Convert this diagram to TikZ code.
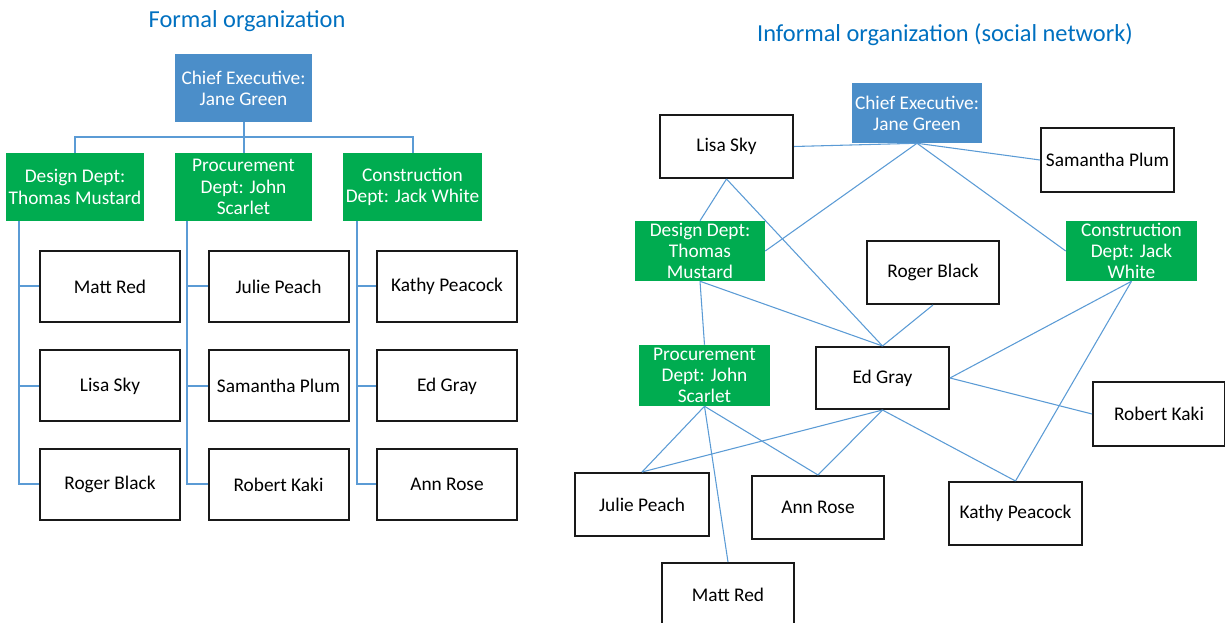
\documentclass[tikz,border=0pt]{standalone}
\usepackage{fontspec}
\setmainfont{Carlito}
\usetikzlibrary{calc}
\definecolor{ceoblue}{RGB}{75,142,201}
\definecolor{deptgreen}{RGB}{0,172,80}
\definecolor{linkblue}{RGB}{91,155,213}
\definecolor{titleblue}{RGB}{0,112,192}

\begin{document}
\begin{tikzpicture}[x=0.75pt,y=-0.75pt,
  every node/.style={inner sep=0pt, align=center, font=\fontsize{14.5}{15.9}\selectfont},
  sz/.style 2 args={minimum width=#1*0.75pt, minimum height=#2*0.75pt},
  heading/.style={font=\fontsize{18.3}{22}\selectfont, text=titleblue},
  person/.style={draw=black!90, line width=1.5pt, fill=white},
  ceo/.style={fill=ceoblue, text=white},
  dept/.style={fill=deptgreen, text=white},
  orgline/.style={draw=linkblue, line width=1.5pt},
  netline/.style={draw=linkblue, line width=0.8pt},
]
\useasboundingbox (0,0) rectangle (1225,623);

% ---------------- Formal organization ----------------
\node[heading] (tf) at (247,21) {Formal organization};

\node[ceo, sz={137}{68}] (ceoL) at (243.5,88) {Chief Executive:\\Jane Green};
\node[dept, sz={138}{68}] (desL) at (75,187) {Design Dept:\\Thomas Mustard};
\node[dept, sz={137}{68}] (proL) at (243.5,187) {Procurement\\Dept: John\\Scarlet};
\node[dept, sz={139}{68}] (conL) at (412.5,187) {Construction\\Dept: Jack White};

\node[person, sz={140}{71}] (mattL)   at (110,286.5) {Matt Red};
\node[person, sz={140}{71}] (lisaL)   at (110,386)   {Lisa Sky};
\node[person, sz={140}{71}] (rogerL)  at (110,484.5) {Roger Black};
\node[person, sz={140}{71}] (julieL)  at (278.5,286.5) {Julie Peach};
\node[person, sz={140}{71}] (samL)    at (278.5,386)   {Samantha Plum};
\node[person, sz={140}{71}] (robL)    at (278.5,484.5) {Robert Kaki};
\node[person, sz={140}{71}] (kathyL)  at (447,286.5) {Kathy Peacock};
\node[person, sz={140}{71}] (edL)     at (447,386)   {Ed Gray};
\node[person, sz={140}{71}] (annL)    at (447,484.5) {Ann Rose};

% reporting lines
\draw[orgline] (ceoL.south) -- (proL.north);
\draw[orgline] (desL.north) -- ++(0,-16) -| (conL.north);

\coordinate (dx) at ([xshift=13*0.75pt]desL.south west);
\coordinate (px) at ([xshift=12*0.75pt]proL.south west);
\coordinate (cx) at ([xshift=14*0.75pt]conL.south west);

\draw[orgline] (dx) |- (rogerL.west);
\draw[orgline] (dx |- mattL.west) -- (mattL.west);
\draw[orgline] (dx |- lisaL.west) -- (lisaL.west);

\draw[orgline] (px) |- (robL.west);
\draw[orgline] (px |- julieL.west) -- (julieL.west);
\draw[orgline] (px |- samL.west) -- (samL.west);

\draw[orgline] (cx) |- (annL.west);
\draw[orgline] (cx |- kathyL.west) -- (kathyL.west);
\draw[orgline] (cx |- edL.west) -- (edL.west);

% ---------------- Informal organization ----------------
\node[heading] (ti) at (945,35) {Informal organization (social network)};

\node[ceo, sz={130}{60}] (ceoR) at (917,113) {Chief Executive:\\Jane Green};
\node[dept, sz={130}{60}] (desR) at (700,251) {Design Dept:\\Thomas\\Mustard};
\node[dept, sz={131}{60}] (conR) at (1131.5,251) {Construction\\Dept: Jack\\White};
\node[dept, sz={131}{61}] (proR) at (704.5,375.5) {Procurement\\Dept: John\\Scarlet};

\node[person, sz={133}{63}] (lisaR)  at (726.5,146.5) {Lisa Sky};
\node[person, sz={133}{64}] (samR)   at (1107.5,160) {Samantha Plum};
\node[person, sz={132}{63}] (rogerR) at (933,272.5) {Roger Black};
\node[person, sz={133}{62}] (edR)    at (882.5,378) {Ed Gray};
\node[person, sz={132}{64}] (robR)   at (1159,414) {Robert Kaki};
\node[person, sz={134}{63}] (julieR) at (642,504.5) {Julie Peach};
\node[person, sz={132}{63}] (annR)   at (818,507.5) {Ann Rose};
\node[person, sz={133}{63}] (kathyR) at (1015.5,513.5) {Kathy Peacock};
\node[person, sz={132}{64}] (mattR)  at (728,595) {Matt Red};

% social ties
\draw[netline] (lisaR.east) -- (ceoR.south);
\draw[netline] (ceoR.south) -- (samR.west);
\draw[netline] (ceoR.south) -- (desR.east);
\draw[netline] (ceoR.south) -- (conR.west);
\draw[netline] (lisaR.south) -- (desR.north);
\draw[netline] (lisaR.south) -- (edR.north);
\draw[netline] (desR.south) -- (edR.north);
\draw[netline] (desR.south) -- (proR.north);
\draw[netline] (rogerR.south) -- (edR.north);
\draw[netline] (conR.south) -- (edR.east);
\draw[netline] (conR.south) -- (kathyR.north);
\draw[netline] (edR.east) -- (robR.west);
\draw[netline] (edR.south) -- (julieR.north);
\draw[netline] (edR.south) -- (annR.north);
\draw[netline] (edR.south) -- (kathyR.north);
\draw[netline] (proR.south) -- (julieR.north);
\draw[netline] (proR.south) -- (annR.north);
\draw[netline] (proR.south) -- (mattR.north);
\end{tikzpicture}
\end{document}
